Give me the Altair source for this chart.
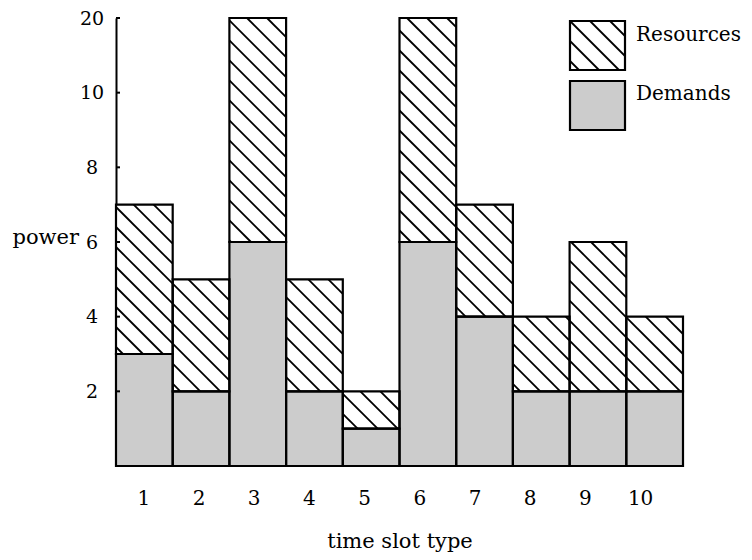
import math
import altair as alt
import pandas as pd

# ---- data ----
slots = [1, 2, 3, 4, 5, 6, 7, 8, 9, 10]
resources = [7, 5, 20, 5, 2, 20, 7, 4, 6, 4]
demands = [3, 2, 6, 2, 1, 6, 4, 2, 2, 2]
y_tick_values = [2, 4, 6, 8, 10, 20]
legend_labels = ["Resources", "Demands"]
x_title = "time slot type"
y_title = "power"

# ---- layout / style ----
W, H = 567, 448
FONT = "DejaVu Serif"
GRAY = "#cccccc"
EDGE = 2.2
HATCH_W = 1.8
HATCH_STEP = 20.0
HATCH_PHASE = 9.0
LABEL_START_PX = 27.3   # x-axis labels are evenly spread, slightly narrower than the bars
LABEL_STEP_PX = 55.2
bw = W / 10.0
sy = H / 6.0


def to_pos(v):
    # broken power axis: equal steps 2,4,6,8,10 then 20
    return v / 2.0 if v <= 10 else 5 + (v - 10) / 10.0


def px_to_data(xp, yp):
    return 0.5 + xp / bw, (H - yp) / sy


def hatch(x0p, x1p, y0p, y1p):
    rows = []
    cmin, cmax = y0p - x1p, y1p - x0p
    k0 = math.floor((cmin - HATCH_PHASE) / HATCH_STEP)
    k1 = math.ceil((cmax - HATCH_PHASE) / HATCH_STEP)
    for k in range(k0, k1 + 1):
        c = HATCH_PHASE + k * HATCH_STEP
        xs = max(x0p, y0p - c)
        xe = min(x1p, y1p - c)
        if xe - xs > 0.3:
            xa, ya = px_to_data(xs, xs + c)
            xb, yb = px_to_data(xe, xe + c)
            rows.append(dict(xa=xa, ya=ya, xb=xb, yb=yb))
    return rows


bars = pd.DataFrame({
    "slot": slots,
    "x0": [s - 0.5 for s in slots],
    "x1": [s + 0.5 for s in slots],
    "base": [0.0] * len(slots),
    "d": [to_pos(v) for v in demands],
    "r": [to_pos(v) for v in resources],
})

hatch_rows = []
for s, dv, rv in zip(slots, demands, resources):
    hatch_rows += hatch((s - 1) * bw, s * bw, H - to_pos(rv) * sy, H - to_pos(dv) * sy)
# legend swatch boxes (plot pixel coordinates)
LB = dict(x0=454, x1=509, y0=3, y1=52)
LB2 = dict(x0=454, x1=509, y0=63, y1=112)
hatch_rows += hatch(LB["x0"], LB["x1"], LB["y0"], LB["y1"])
hatch_df = pd.DataFrame(hatch_rows)

outline = pd.DataFrame({
    "x0": list(bars["x0"]) * 2,
    "x1": list(bars["x1"]) * 2,
    "ya": list(bars["base"]) + list(bars["d"]),
    "yb": list(bars["d"]) + list(bars["r"]),
})

ticks_df = pd.DataFrame({"u": [to_pos(v) for v in y_tick_values]})

y_label_expr = "''"
for v in reversed(y_tick_values):
    y_label_expr = f"abs(datum.value - {to_pos(v)}) < 0.01 ? '{v}' : " + y_label_expr

x_label_pos = [0.5 + (LABEL_START_PX + i * LABEL_STEP_PX) / bw for i in range(len(slots))]
x_label_expr = "''"
for p, s in reversed(list(zip(x_label_pos, slots))):
    x_label_expr = f"abs(datum.value - {p:.4f}) < 0.01 ? '{s}' : " + x_label_expr

xs = alt.Scale(domain=[0.5, 10.5], nice=False, zero=False)
ys = alt.Scale(domain=[0, 6], nice=False, zero=False)

y_axis = alt.Axis(
    values=[to_pos(v) for v in y_tick_values], labelExpr=y_label_expr,
    title=y_title, titleAngle=0, titleAlign="left", titleBaseline="alphabetic",
    titleX=-104, titleY=225, titleFontSize=21, titleFontWeight="normal",
    labelFontSize=19, labelPadding=24.5, labelAlign="center", ticks=False,
    domainColor="black", domainWidth=2, grid=False, labelOverlap=False,
)
x_axis = alt.Axis(
    values=[round(p, 4) for p in x_label_pos], labelExpr=x_label_expr,
    title=x_title, ticks=False, domain=False, grid=False,
    labelPadding=22, labelFontSize=20, labelFlush=False, labelOverlap=False,
    titleFontSize=21, titleFontWeight="normal", titleBaseline="alphabetic",
    titleY=81,
)

one = pd.DataFrame({"k": [0]})
legend_box1 = alt.Chart(one).mark_rect(fill="white", strokeWidth=0).encode(
    x=alt.value(LB["x0"]), x2=alt.value(LB["x1"]), y=alt.value(LB["y0"]), y2=alt.value(LB["y1"]))
legend_box1_edge = alt.Chart(one).mark_rect(fillOpacity=0, stroke="black", strokeWidth=EDGE).encode(
    x=alt.value(LB["x0"]), x2=alt.value(LB["x1"]), y=alt.value(LB["y0"]), y2=alt.value(LB["y1"]))
legend_box2 = alt.Chart(one).mark_rect(fill=GRAY, stroke="black", strokeWidth=EDGE).encode(
    x=alt.value(LB2["x0"]), x2=alt.value(LB2["x1"]), y=alt.value(LB2["y0"]), y2=alt.value(LB2["y1"]))
legend_t1 = alt.Chart(pd.DataFrame({"t": [legend_labels[0]]})).mark_text(
    font=FONT, fontSize=20, align="left", baseline="alphabetic", color="black"
).encode(text="t:N", x=alt.value(520), y=alt.value(22.5))
legend_t2 = alt.Chart(pd.DataFrame({"t": [legend_labels[1]]})).mark_text(
    font=FONT, fontSize=20, align="left", baseline="alphabetic", color="black"
).encode(text="t:N", x=alt.value(520), y=alt.value(81.5))

demand_layer = alt.Chart(bars).mark_rect(fill=GRAY, strokeWidth=0).encode(
    x=alt.X("x0:Q", scale=xs, axis=x_axis), x2="x1:Q",
    y=alt.Y("base:Q", scale=ys, axis=y_axis), y2="d:Q",
)
resource_layer = alt.Chart(bars).mark_rect(fill="white", strokeWidth=0).encode(
    x=alt.X("x0:Q", scale=xs, axis=x_axis), x2="x1:Q",
    y=alt.Y("d:Q", scale=ys, axis=y_axis), y2="r:Q",
)
hatch_layer = alt.Chart(hatch_df).mark_rule(color="black", strokeWidth=HATCH_W).encode(
    x=alt.X("xa:Q", scale=xs, axis=x_axis), x2="xb:Q",
    y=alt.Y("ya:Q", scale=ys, axis=y_axis), y2="yb:Q",
)
outline_layer = alt.Chart(outline).mark_rect(
    fillOpacity=0, stroke="black", strokeWidth=EDGE
).encode(
    x=alt.X("x0:Q", scale=xs, axis=x_axis), x2="x1:Q",
    y=alt.Y("ya:Q", scale=ys, axis=y_axis), y2="yb:Q",
)
# short inward tick marks on the y axis
tick_layer = alt.Chart(ticks_df).mark_rule(color="black", strokeWidth=2).encode(
    y=alt.Y("u:Q", scale=ys, axis=y_axis), x=alt.value(0), x2=alt.value(4),
)

chart = alt.layer(
    demand_layer, resource_layer, legend_box1, hatch_layer, outline_layer,
    tick_layer, legend_box1_edge, legend_box2, legend_t1, legend_t2,
).properties(
    width=W, height=H,
    autosize=alt.AutoSizeParams(type="none"),
    padding={"left": 108, "top": 10, "right": 61, "bottom": 86},
).configure_view(stroke=None).configure_axis(
    labelFont=FONT, titleFont=FONT, labelColor="black", titleColor="black",
)

chart.save("out.html", embed_options={"renderer": "svg", "actions": False})
